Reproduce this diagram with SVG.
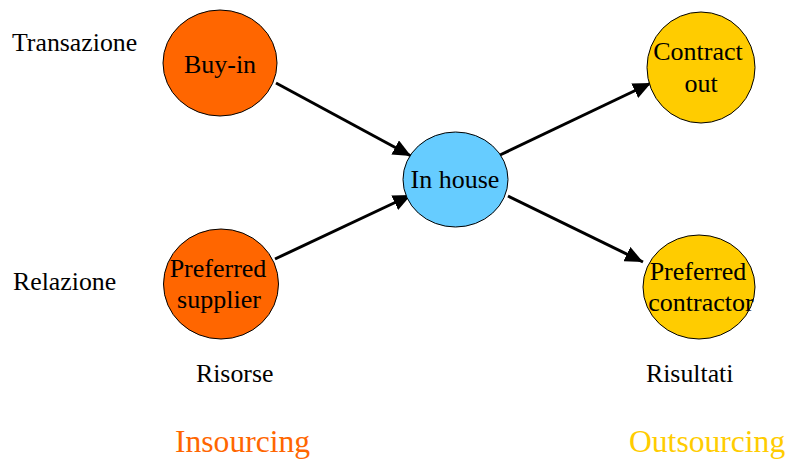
<svg xmlns="http://www.w3.org/2000/svg" width="791" height="459" viewBox="0 0 791 459">
  <style>
    text { font-family: "Liberation Serif", "Times New Roman", serif; fill: #000; }
    .lbl { font-size: 25.8px; }
    .node { font-size: 26px; text-anchor: middle; }
    .big { font-size: 31.6px; }
    .orange { fill: #FF6600; }
    .yellow { fill: #FFCC00; }
    .blue { fill: #66CCFF; }
    ellipse { stroke: #000; stroke-width: 1; }
    .conn line { stroke: #000; stroke-width: 3; marker-end: url(#arrow); }
  </style>
  <defs>
    <marker id="arrow" markerUnits="userSpaceOnUse" markerWidth="19" markerHeight="16" refX="18" refY="8" orient="auto">
      <path d="M0,0 L18,8 L0,16 Z" fill="#000"/>
    </marker>
  </defs>

  <!-- row / column labels -->
  <text class="lbl" x="12" y="51">Transazione</text>
  <text class="lbl" x="13" y="290">Relazione</text>
  <text class="lbl" x="196" y="382">Risorse</text>
  <text class="lbl" x="646" y="382">Risultati</text>
  <text class="big" x="175" y="452" style="fill:#FF6600">Insourcing</text>
  <text class="big" x="629" y="452" style="fill:#FFCC00">Outsourcing</text>

  <!-- connectors -->
  <g id="connectors" class="conn">
    <line x1="276" y1="83" x2="411" y2="156"/>
    <line x1="275" y1="259" x2="411" y2="195"/>
    <line x1="500" y1="155" x2="651" y2="83"/>
    <line x1="508" y1="196" x2="643" y2="262"/>
  </g>

  <g id="buy-in">
    <ellipse class="orange" cx="220" cy="63" rx="57" ry="53"/>
    <text class="node" x="220" y="73">Buy-in</text>
  </g>

  <g id="preferred-supplier">
    <ellipse class="orange" cx="221" cy="284" rx="57.5" ry="55"/>
    <text class="node" x="218" y="277">Preferred</text>
    <text class="node" x="219" y="308">supplier</text>
  </g>

  <g id="in-house">
    <ellipse class="blue" cx="455.5" cy="179.5" rx="52.5" ry="47.5"/>
    <text class="node" x="455" y="188">In house</text>
  </g>

  <g id="contract-out">
    <ellipse class="yellow" cx="701" cy="67.5" rx="54" ry="55.5"/>
    <text class="node" x="698" y="60">Contract</text>
    <text class="node" x="701" y="92">out</text>
  </g>

  <g id="preferred-contractor">
    <ellipse class="yellow" cx="699" cy="287" rx="56" ry="52"/>
    <text class="node" x="698" y="280">Preferred</text>
    <text class="node" x="701" y="311">contractor</text>
  </g>
</svg>
